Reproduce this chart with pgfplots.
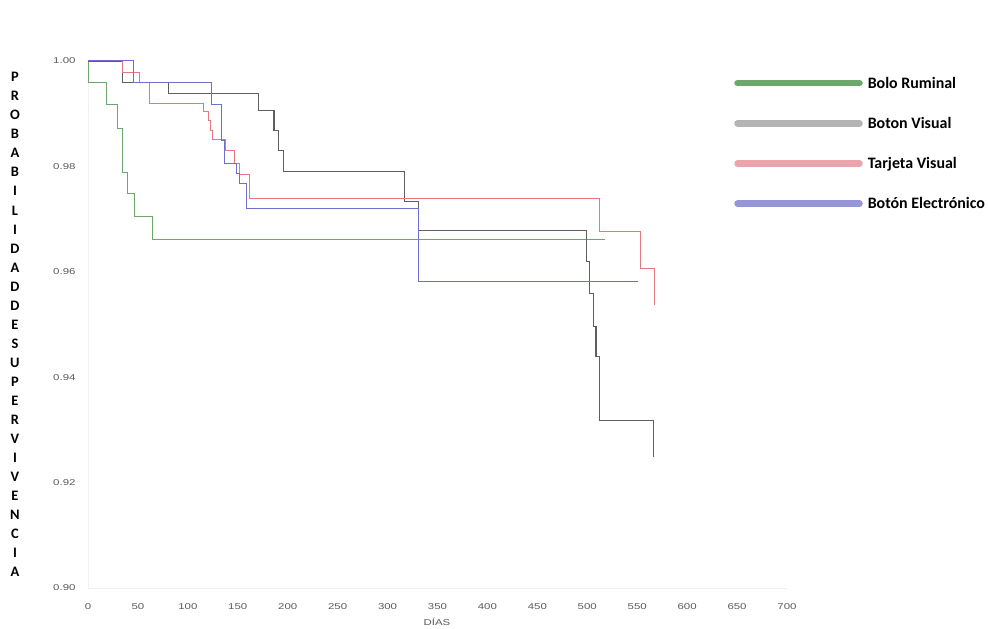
\documentclass[border=0pt]{standalone}
\usepackage{fontspec}
\setmainfont{Liberation Sans}
\newfontfamily\carlito{Carlito}
\newfontfamily\tickfont[FakeStretch=1.35]{Liberation Sans}
\usepackage{pgfplots}
\pgfplotsset{compat=1.18}
\definecolor{cGreen}{RGB}{110,165,110}
\definecolor{cGray}{RGB}{95,95,95}
\definecolor{cRed}{RGB}{228,120,125}
\definecolor{cBlue}{RGB}{110,110,205}
\definecolor{lGreen}{RGB}{108,168,108}
\definecolor{lGray}{RGB}{180,180,180}
\definecolor{lRed}{RGB}{234,165,172}
\definecolor{lBlue}{RGB}{150,150,215}
\definecolor{tickgray}{RGB}{90,90,90}
\begin{document}
\begin{tikzpicture}
\useasboundingbox (0,0) rectangle (988bp,629bp);
\begin{axis}[
  at={(88bp,41bp)}, anchor=south west,
  scale only axis, width=699bp, height=527bp,
  xmin=0, xmax=700, ymin=0.90, ymax=1.00,
  xtick={0,50,...,700},
  ytick={0.90,0.92,0.94,0.96,0.98,1.00},
  axis x line=bottom, axis y line=left,
  axis line style={-, draw=gray!12},
  major tick length=0pt,
  clip=false,
  /pgf/number format/assume math mode=true,
  yticklabel style={/pgf/number format/fixed, /pgf/number format/fixed zerofill, /pgf/number format/precision=2, font=\tickfont\fontsize{8.5}{10}\selectfont, text=tickgray, xshift=-9bp},
  xticklabel style={font=\tickfont\fontsize{8.5}{10}\selectfont, text=tickgray, yshift=-12bp},
  xlabel={DÍAS},
  xlabel style={font=\tickfont\fontsize{8.5}{10}\selectfont, text=tickgray, at={(axis description cs:0.4993,-0.0635)}, anchor=center, inner sep=0pt},
  ylabel={P\\R\\O\\B\\A\\B\\I\\L\\I\\D\\A\\D\\D\\E\\S\\U\\P\\E\\R\\V\\I\\V\\E\\N\\C\\I\\A},
  ylabel style={rotate=-90, align=center, font=\carlito\bfseries\fontsize{14.5}{19.1}\selectfont, at={(axis description cs:-0.1045,0.500)}, anchor=center},
  legend style={at={(axis description cs:0.920,0.976)}, anchor=north west, draw=none, fill=none,
    font=\carlito\bfseries\fontsize{16}{16}\selectfont, row sep=25.5bp,
    nodes={inner sep=1bp},
    /tikz/every odd column/.append style={column sep=4bp}},
  legend cell align=left,
]
% Bolo Ruminal
\addplot[const plot, cGreen, line width=0.9bp,
  legend image code/.code={\draw[line width=6.5bp, line cap=round, lGreen] (0bp,0bp) -- (122bp,0bp);}]
  coordinates {(0,1.0) (0.3,0.9959) (18,0.9917) (29.3,0.9872) (34.7,0.9788) (39.7,0.9749) (47,0.9705) (64.8,0.9662) (517.7,0.9662)};
\addlegendentry{Bolo Ruminal}
% Boton Visual
\addplot[const plot, cGray, line width=1.1bp,
  legend image code/.code={\draw[line width=6.5bp, line cap=round, lGray] (0bp,0bp) -- (122bp,0bp);}]
  coordinates {(0,1.0) (34.7,0.9959) (80.4,0.9939) (170.5,0.9906) (186.3,0.9868) (190.6,0.9831) (195.6,0.9790) (317.4,0.9733) (330.8,0.9678) (499.4,0.9619) (502,0.9559) (506,0.9497) (508.7,0.9439) (512,0.9317) (566,0.9249)};
\addlegendentry{Boton Visual}
% Tarjeta Visual
\addplot[const plot, cRed, line width=1.0bp,
  legend image code/.code={\draw[line width=6.5bp, line cap=round, lRed] (0bp,0bp) -- (122bp,0bp);}]
  coordinates {(0,1.0) (34.7,0.9979) (52,0.9959) (62,0.9920) (115.5,0.9904) (120.5,0.9888) (122.9,0.9869) (124.9,0.9851) (137.2,0.9831) (147.2,0.9806) (152.2,0.9784) (161.5,0.9740) (512,0.9676) (552.8,0.9607) (567.1,0.9537)};
\addlegendentry{Tarjeta Visual}
% Boton Electronico
\addplot[const plot, cBlue, line width=1.0bp,
  legend image code/.code={\draw[line width=6.5bp, line cap=round, lBlue] (0bp,0bp) -- (122bp,0bp);}]
  coordinates {(0,1.0) (46,0.9959) (123.9,0.9917) (133.9,0.9850) (136.2,0.9806) (148.9,0.9787) (152.2,0.9768) (158.9,0.9721) (330.8,0.9581) (551,0.9581)};
\addlegendentry{Botón Electrónico}
\end{axis}
\end{tikzpicture}
\end{document}
